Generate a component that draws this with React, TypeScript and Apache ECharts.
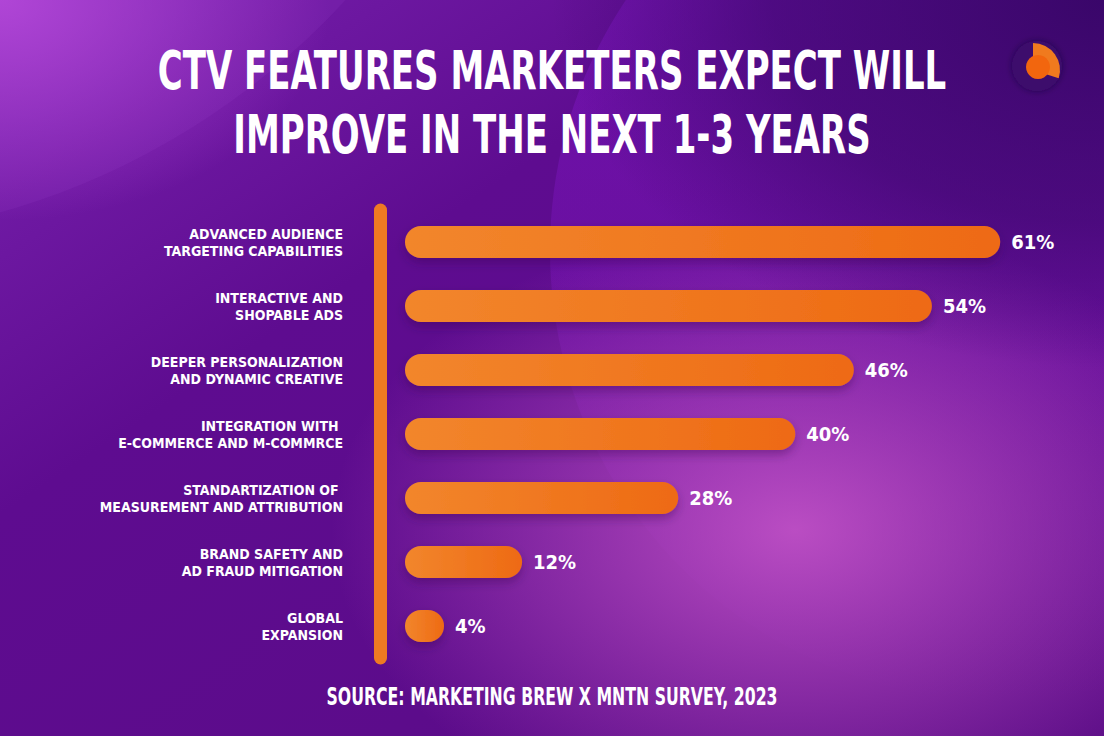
import React, { useEffect, useRef } from "react";
import * as echarts from "echarts";

const categories = [
  "ADVANCED AUDIENCE\nTARGETING CAPABILITIES",
  "INTERACTIVE AND\nSHOPABLE ADS",
  "DEEPER PERSONALIZATION\nAND DYNAMIC CREATIVE",
  "INTEGRATION WITH \nE-COMMERCE AND M-COMMRCE",
  "STANDARTIZATION OF \nMEASUREMENT AND ATTRIBUTION",
  "BRAND SAFETY AND\nAD FRAUD MITIGATION",
  "GLOBAL\nEXPANSION",
];
const values = [61, 54, 46, 40, 28, 12, 4];
const titleLines = ["CTV FEATURES MARKETERS EXPECT WILL", "IMPROVE IN THE NEXT 1-3 YEARS"];
const sourceText = "SOURCE: MARKETING BREW X MNTN SURVEY, 2023";

const FONT = "'DejaVu Sans Condensed', 'Liberation Sans Narrow', Roboto, sans-serif";

export default function App() {
  const ref = useRef<HTMLDivElement>(null);
  useEffect(() => {
    document.body.style.margin = "0";
    const chart = echarts.init(ref.current!, null, { renderer: "svg" });
    const full = { x: 0, y: 0, width: 1104, height: 736 };
    const option: any = {
      animation: false,
      graphic: [
        {
          type: "rect",
          z: -10,
          shape: full,
          style: {
            fill: new echarts.graphic.LinearGradient(0, 0, 1, 1, [
              { offset: 0, color: "#7a22b0" },
              { offset: 0.35, color: "#5e0c90" },
              { offset: 1, color: "#5a0c86" },
            ]),
          },
        },
        {
          type: "circle",
          z: -9,
          shape: { cx: -200, cy: -500, r: 740 },
          style: { fill: "rgba(150,60,200,0.16)" },
        },
        {
          type: "circle",
          z: -9,
          shape: { cx: 1000, cy: 250, r: 450 },
          style: {
            fill: new echarts.graphic.LinearGradient(0, 0, 0, 1, [
              { offset: 0, color: "rgba(135,25,205,0.5)" },
              { offset: 0.5, color: "rgba(135,25,205,0.3)" },
              { offset: 1, color: "rgba(135,25,205,0)" },
            ]),
          },
        },
        {
          type: "rect",
          z: -9,
          shape: full,
          style: {
            fill: new echarts.graphic.RadialGradient(0.72, 0.72, 0.42, [
              { offset: 0, color: "rgba(196,84,200,0.9)" },
              { offset: 1, color: "rgba(196,84,200,0)" },
            ]),
          },
        },
        {
          type: "rect",
          z: -8,
          shape: full,
          style: {
            fill: new echarts.graphic.RadialGradient(1, 0, 0.5, [
              { offset: 0, color: "rgba(56,6,104,0.97)" },
              { offset: 0.6, color: "rgba(56,6,104,0.6)" },
              { offset: 1, color: "rgba(56,6,104,0)" },
            ]),
          },
        },
        {
          type: "rect",
          z: -8,
          shape: full,
          style: {
            fill: new echarts.graphic.RadialGradient(0, 0, 0.3, [
              { offset: 0, color: "rgba(185,75,220,0.85)" },
              { offset: 1, color: "rgba(185,75,220,0)" },
            ]),
          },
        },
        {
          type: "text",
          x: 552,
          y: 70,
          scaleX: 0.7,
          style: {
            text: titleLines[0],
            fill: "#ffffff",
            font: `bold 54px ${FONT}`,
            textAlign: "center",
            textVerticalAlign: "middle",
          },
        },
        {
          type: "text",
          x: 552,
          y: 134,
          scaleX: 0.7,
          style: {
            text: titleLines[1],
            fill: "#ffffff",
            font: `bold 54px ${FONT}`,
            textAlign: "center",
            textVerticalAlign: "middle",
          },
        },
        {
          type: "text",
          x: 552,
          y: 696,
          scaleX: 0.7,
          style: {
            text: sourceText,
            fill: "#ffffff",
            font: `bold 25px ${FONT}`,
            textAlign: "center",
            textVerticalAlign: "middle",
          },
        },
        {
          type: "group",
          children: [
            { type: "circle", shape: { cx: 1037, cy: 66, r: 25 }, style: { fill: "#3c0a6c", shadowBlur: 6, shadowColor: "rgba(20,0,40,0.5)" } },
            {
              type: "sector",
              shape: { cx: 1033, cy: 70, r: 27, r0: 0, startAngle: -Math.PI / 2, endAngle: Math.PI / 10 },
              style: { fill: "#f07a1e" },
            },
            { type: "circle", shape: { cx: 1038, cy: 67, r: 12 }, style: { fill: "#f2660e" } },
          ],
        },
      ],
      grid: { left: 405, top: 210, height: 448, right: 16 },
      xAxis: { type: "value", min: 0, max: 70, show: false, splitLine: { show: false } },
      yAxis: {
        type: "category",
        inverse: true,
        data: categories,
        offset: 25,
        axisLine: { show: true, onZero: false, lineStyle: { color: "#ef7a22", width: 13, cap: "round" } },
        axisTick: { show: false },
        axisLabel: {
          margin: 37,
          color: "#ffffff",
          fontFamily: FONT,
          fontWeight: "bold",
          fontSize: 14,
          lineHeight: 17,
          align: "right",
        },
      },
      series: [
        {
          type: "bar",
          data: values,
          barWidth: 32,
          itemStyle: {
            borderRadius: 16,
            color: new echarts.graphic.LinearGradient(0, 0, 1, 0, [
              { offset: 0, color: "#f2862c" },
              { offset: 1, color: "#ee6a14" },
            ]),
            shadowBlur: 10,
            shadowOffsetY: 5,
            shadowColor: "rgba(50,0,70,0.35)",
          },
          label: {
            show: true,
            position: "right",
            distance: 11,
            formatter: "{c}%",
            color: "#ffffff",
            fontFamily: FONT,
            fontWeight: "bold",
            fontSize: 20,
          },
        },
      ],
    };
    chart.setOption(option);
    return () => chart.dispose();
  }, []);
  return <div ref={ref} style={{ width: 1104, height: 736 }} />;
}
